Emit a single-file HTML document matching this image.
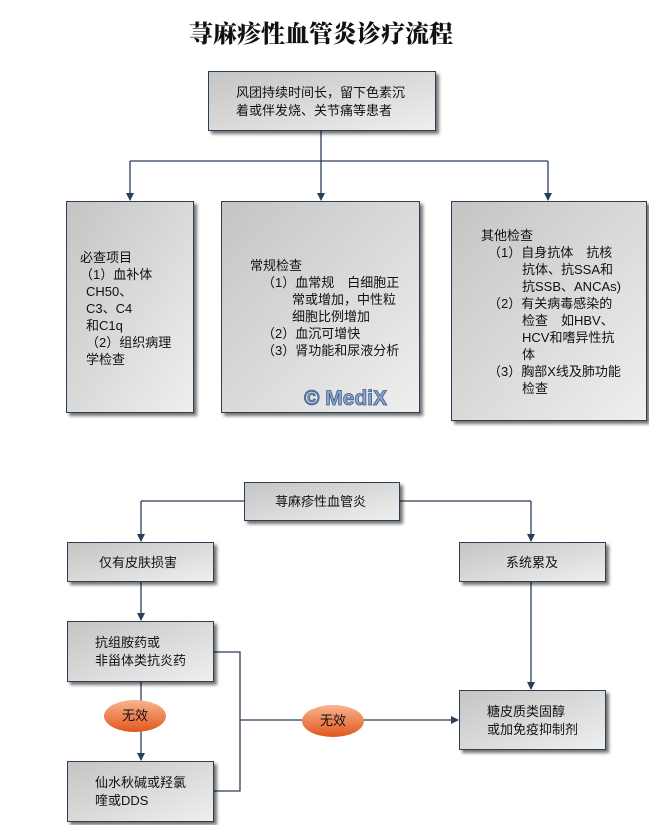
<!DOCTYPE html>
<html><head><meta charset="utf-8"><style>
body{margin:0;background:#fff;}
svg text{font-family:"Liberation Sans","Noto Sans CJK SC",sans-serif;font-size:13px;fill:#111;}
</style></head><body>
<svg width="649" height="825" viewBox="0 0 649 825" xmlns="http://www.w3.org/2000/svg">
<defs>
<linearGradient id="g" x1="0" y1="0" x2="1" y2="1">
<stop offset="0" stop-color="#c4c4c4"/><stop offset="1" stop-color="#efefef"/></linearGradient>
<linearGradient id="o" x1="0" y1="0" x2="0" y2="1">
<stop offset="0" stop-color="#f9b48e"/><stop offset="1" stop-color="#e2561c"/></linearGradient>
<filter id="s" x="-10%" y="-10%" width="130%" height="130%"><feGaussianBlur in="SourceAlpha" stdDeviation="1.5"/><feOffset dx="3" dy="3"/><feComponentTransfer><feFuncA type="linear" slope="0.55"/></feComponentTransfer><feMerge><feMergeNode/><feMergeNode in="SourceGraphic"/></feMerge></filter>
<marker id="a" markerWidth="8" markerHeight="8" refX="7" refY="4" orient="auto" markerUnits="userSpaceOnUse"><path d="M0,0 L8,4 L0,8 Z" fill="#2b3f57"/></marker>
</defs>
<text x="321" y="42" text-anchor="middle" style="font-size:24px;font-weight:900;font-family:'Noto Serif CJK SC','Noto Sans CJK SC',serif;">荨麻疹性血管炎诊疗流程</text>
<g stroke="#2b3f57" stroke-width="1.3" fill="none">
<path d="M321,130 V161 M130,161 H548"/>
<path d="M130,161 V200" marker-end="url(#a)"/>
<path d="M321,161 V200" marker-end="url(#a)"/>
<path d="M548,161 V200" marker-end="url(#a)"/>
<path d="M244,501 H141 M399,501 H531"/>
<path d="M141,501 V541" marker-end="url(#a)"/>
<path d="M531,501 V541" marker-end="url(#a)"/>
<path d="M141,581 V620" marker-end="url(#a)"/>
<path d="M141,681 V760" marker-end="url(#a)"/>
<path d="M531,581 V689" marker-end="url(#a)"/>
<path d="M213,652 H240 V791 H213"/>
<path d="M240,720 H458" marker-end="url(#a)"/>
</g>
<g fill="url(#g)" stroke="#2b3f57" stroke-width="1" filter="url(#s)">
<rect x="208.5" y="71.5" width="227" height="59"/>
<rect x="66.5" y="201.5" width="127" height="211"/>
<rect x="221.5" y="201.5" width="198" height="211"/>
<rect x="451.5" y="201.5" width="195" height="219"/>
<rect x="244.5" y="482.5" width="155" height="38"/>
<rect x="67.5" y="542.5" width="146" height="39"/>
<rect x="459.5" y="542.5" width="146" height="39"/>
<rect x="67.5" y="621.5" width="146" height="60"/>
<rect x="67.5" y="761.5" width="146" height="60"/>
<rect x="459.5" y="690.5" width="146" height="59"/>
</g>
<ellipse cx="135" cy="716" rx="31" ry="16" fill="url(#o)"/>
<ellipse cx="333" cy="721" rx="31" ry="16" fill="url(#o)"/>
<text x="236" y="97">风团持续时间长，留下色素沉</text>
<text x="236" y="115">着或伴发烧、关节痛等患者</text>
<text x="80" y="262">必查项目</text>
<text x="80" y="279">（1）血补体</text>
<text x="86" y="296">CH50、</text>
<text x="86" y="313">C3、C4</text>
<text x="86" y="330">和C1q</text>
<text x="86" y="347">（2）组织病理</text>
<text x="86" y="364">学检查</text>
<text x="250" y="270">常规检查</text>
<text x="262" y="287">（1）血常规　白细胞正</text>
<text x="292" y="304">常或增加，中性粒</text>
<text x="292" y="321">细胞比例增加</text>
<text x="262" y="338">（2）血沉可增快</text>
<text x="262" y="355">（3）肾功能和尿液分析</text>
<text x="304" y="405" style="font-size:21px;font-weight:bold;fill:#8fa8cc;stroke:#3d5a8a;stroke-width:0.8;">© MediX</text>
<text x="481" y="240">其他检查</text>
<text x="488" y="257">（1）自身抗体　抗核</text>
<text x="522" y="274">抗体、抗SSA和</text>
<text x="522" y="291">抗SSB、ANCAs)</text>
<text x="488" y="308">（2）有关病毒感染的</text>
<text x="522" y="325">检查　如HBV、</text>
<text x="522" y="342">HCV和嗜异性抗</text>
<text x="522" y="359">体</text>
<text x="488" y="376">（3）胸部X线及肺功能</text>
<text x="522" y="393">检查</text>
<text x="275" y="506">荨麻疹性血管炎</text>
<text x="99" y="567">仅有皮肤损害</text>
<text x="506" y="567">系统累及</text>
<text x="95" y="647">抗组胺药或</text>
<text x="95" y="665">非甾体类抗炎药</text>
<text x="95" y="787">仙水秋碱或羟氯</text>
<text x="95" y="805">喹或DDS</text>
<text x="487" y="716">糖皮质类固醇</text>
<text x="487" y="734">或加免疫抑制剂</text>
<text x="135" y="720" text-anchor="middle">无效</text>
<text x="333" y="725" text-anchor="middle">无效</text>
</svg>
</body></html>
